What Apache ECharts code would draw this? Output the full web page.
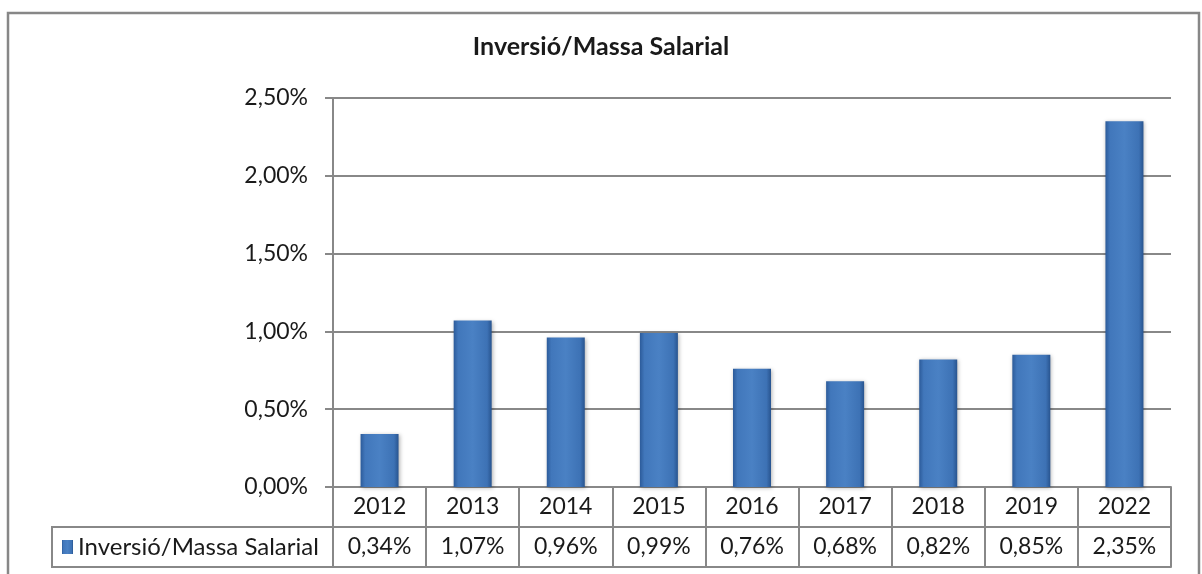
<!DOCTYPE html>
<html>
<head>
<meta charset="utf-8">
<script src="https://cdn.jsdelivr.net/npm/echarts@6/dist/echarts.min.js"></script>
<style>
html,body{margin:0;padding:0;background:#fff;}
#chart{width:1202px;height:574px;}
</style>
</head>
<body>
<div id="chart"></div>
<script>
const categories = ['2012','2013','2014','2015','2016','2017','2018','2019','2022'];
const values = [0.34, 1.07, 0.96, 0.99, 0.76, 0.68, 0.82, 0.85, 2.35];
const seriesName = 'Inversió/Massa Salarial';
const titleText = 'Inversió/Massa Salarial';
const yTicks = [0, 0.5, 1.0, 1.5, 2.0, 2.5];

const FONT = 'Lato';
const GRAY = '#888888';
const TXT = '#1a1a1a';
const fmt = v => v.toFixed(2).replace('.', ',') + '%';

const chart = echarts.init(document.getElementById('chart'), null, {renderer: 'canvas'});

const barGrad = new echarts.graphic.LinearGradient(0, 0, 1, 0, [
  {offset: 0, color: '#2c5b9a'},
  {offset: 0.12, color: '#4177bb'},
  {offset: 0.5, color: '#4a81c4'},
  {offset: 0.88, color: '#3d72b5'},
  {offset: 1, color: '#28548f'}
]);

const option = {
  animation: false,
  backgroundColor: '#ffffff',
  textStyle: {fontFamily: FONT},
  title: {
    text: titleText,
    left: 'center',
    top: 34,
    padding: 0,
    textStyle: {fontFamily: FONT, fontSize: 25, fontWeight: 'bold', color: TXT}
  },
  legend: {
    data: [seriesName],
    left: 57,
    top: 530,
    padding: 5,
    icon: 'rect',
    itemWidth: 11,
    itemHeight: 14,
    textStyle: {fontFamily: FONT, fontSize: 24, color: TXT},
    selectedMode: false
  },
  grid: {left: 333, right: 31, top: 98, bottom: 87, containLabel: false},
  xAxis: [
    {
      type: 'category',
      data: categories,
      position: 'bottom',
      axisLine: {show: true, lineStyle: {color: GRAY, width: 2}},
      axisTick: {show: true, length: 40, interval: 0, lineStyle: {color: GRAY, width: 2}},
      axisLabel: {fontFamily: FONT, fontSize: 23, color: TXT, margin: 8, lineHeight: 23, interval: 0},
      splitLine: {show: false}
    },
    {
      type: 'category',
      data: categories,
      position: 'bottom',
      offset: 40,
      axisLine: {show: true, lineStyle: {color: GRAY, width: 2}},
      axisTick: {show: true, length: 40, interval: 0, lineStyle: {color: GRAY, width: 2}},
      axisLabel: {
        fontFamily: FONT, fontSize: 23, color: TXT, margin: 8, lineHeight: 23, interval: 0,
        formatter: (val, idx) => fmt(values[idx])
      },
      splitLine: {show: false}
    },
    {
      type: 'category',
      data: categories,
      position: 'bottom',
      offset: 80,
      axisLine: {show: true, lineStyle: {color: GRAY, width: 2}},
      axisTick: {show: false},
      axisLabel: {show: false},
      splitLine: {show: false}
    }
  ],
  yAxis: {
    type: 'value',
    min: 0,
    max: 2.5,
    interval: 0.5,
    axisLine: {show: true, lineStyle: {color: GRAY, width: 2}},
    axisTick: {show: true, length: 8, lineStyle: {color: GRAY, width: 2}},
    axisLabel: {fontFamily: FONT, fontSize: 23, color: TXT, margin: 25, formatter: v => fmt(v)},
    splitLine: {show: true, lineStyle: {color: GRAY, width: 2}}
  },
  series: [{
    name: seriesName,
    type: 'bar',
    xAxisIndex: 0,
    data: values,
    barWidth: 38,
    itemStyle: {
      color: barGrad,
      shadowColor: 'rgba(0,0,0,0.3)',
      shadowBlur: 4,
      shadowOffsetX: 1,
      shadowOffsetY: 1
    }
  }],
  graphic: [
    {
      type: 'rect',
      z: -1,
      silent: true,
      shape: {x: 8, y: 13, width: 1191, height: 700},
      style: {fill: 'none', stroke: '#878787', lineWidth: 2.5}
    },
    {
      type: 'rect',
      silent: true,
      shape: {x: 52, y: 527, width: 281, height: 40},
      style: {fill: 'none', stroke: GRAY, lineWidth: 2}
    }
  ]
};
chart.setOption(option);
</script>
</body>
</html>
